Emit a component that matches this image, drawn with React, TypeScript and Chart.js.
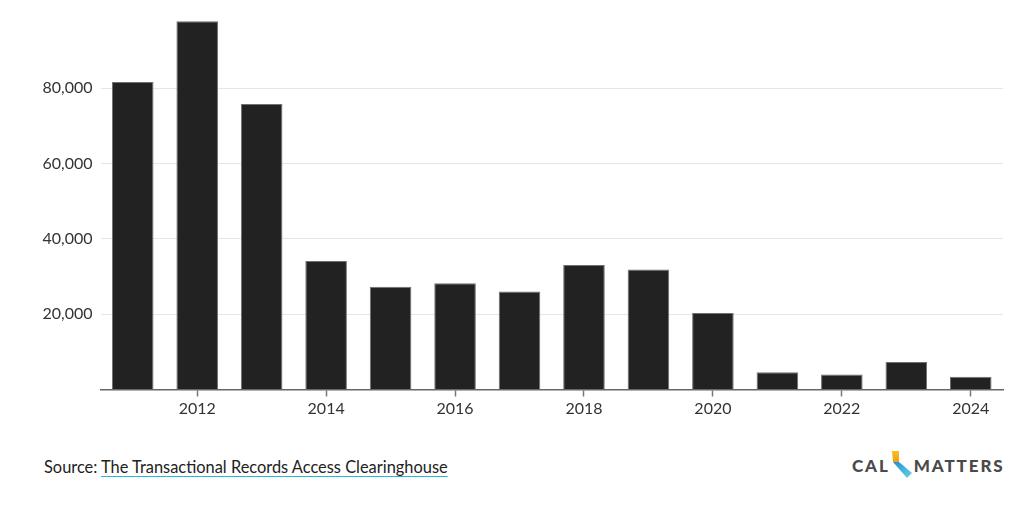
import React, { useEffect, useRef } from 'react';
import { Chart, registerables } from 'chart.js';

Chart.register(...registerables);

const years = ['2011', '2012', '2013', '2014', '2015', '2016', '2017', '2018', '2019', '2020', '2021', '2022', '2023', '2024'];
const values = [81700, 97800, 75800, 34100, 27300, 28200, 26000, 33100, 31900, 20300, 4600, 4000, 7300, 3400];
const yTickValues = [20000, 40000, 60000, 80000];

const FONT = 'Lato, "Noto Sans", sans-serif';

export default function App() {
  const canvasRef = useRef<HTMLCanvasElement | null>(null);

  useEffect(() => {
    if (!canvasRef.current) return;
    const chart = new Chart(canvasRef.current, {
      type: 'bar',
      data: {
        labels: years,
        datasets: [
          {
            data: values,
            backgroundColor: '#222222',
            borderColor: '#707070',
            borderWidth: 1,
            barPercentage: 0.645,
            categoryPercentage: 1,
          },
        ],
      },
      options: {
        animation: false,
        responsive: true,
        maintainAspectRatio: false,
        layout: { padding: { top: 13, right: 21, left: 0, bottom: 0 } },
        plugins: {
          legend: { display: false },
          tooltip: { enabled: false },
        },
        scales: {
          x: {
            offset: true,
            grid: {
              display: true,
              drawOnChartArea: false,
              offset: false,
              tickLength: 7,
              tickWidth: 1.5,
              tickColor: (ctx: any) => (ctx.index % 2 === 1 ? '#777777' : 'rgba(0,0,0,0)'),
            },
            border: { display: true, color: '#666666', width: 1.5 },
            ticks: {
              autoSkip: false,
              maxRotation: 0,
              padding: 3,
              color: '#333333',
              font: { family: FONT, size: 16 },
              callback: (_v: any, i: number) => (i % 2 === 1 ? years[i] : ''),
            },
            afterFit: (s: any) => {
              s.height = 40.5;
              s.paddingLeft = 0;
              s.paddingRight = 0;
            },
          },
          y: {
            min: 0,
            max: 100000,
            grid: {
              drawTicks: false,
              color: (ctx: any) => (ctx.tick && yTickValues.includes(ctx.tick.value) ? '#e6e6e6' : 'rgba(0,0,0,0)'),
              lineWidth: 1,
            },
            border: { display: false },
            ticks: {
              stepSize: 20000,
              padding: 8,
              color: '#333333',
              font: { family: FONT, size: 16 },
              callback: (v: any) => (yTickValues.includes(Number(v)) ? Number(v).toLocaleString('en-US') : ''),
            },
            afterFit: (s: any) => {
              s.width = 100.5;
              s.paddingTop = 0;
              s.paddingBottom = 0;
            },
          },
        },
      },
    });
    return () => chart.destroy();
  }, []);

  return (
    <div style={{ position: 'absolute', left: 0, top: 0, width: 1024, height: 507, background: '#ffffff', overflow: 'hidden' }}>
      <div style={{ position: 'absolute', left: 0, top: 0, width: 1024, height: 430 }}>
        <canvas ref={canvasRef} />
      </div>
      <div
        style={{
          position: 'absolute',
          left: 44,
          top: 456,
          fontFamily: FONT,
          fontSize: 16.4,
          color: '#222222',
          lineHeight: '22px',
          whiteSpace: 'nowrap',
        }}
      >
        Source:{' '}
        <span
          style={{
            textDecoration: 'underline',
            textDecorationColor: '#29b6d8',
            textUnderlineOffset: 3,
            textDecorationThickness: 1,
          }}
        >
          The Transactional Records Access Clearinghouse
        </span>
      </div>
      <div
        style={{
          position: 'absolute',
          left: 852,
          top: 451,
          height: 28,
          display: 'flex',
          alignItems: 'center',
          fontFamily: FONT,
          fontWeight: 900,
          fontSize: 17,
          letterSpacing: 1.9,
          color: '#4a4a4a',
          whiteSpace: 'nowrap',
        }}
      >
        <span>CAL</span>
        <svg width="24" height="28" viewBox="0 0 24 28" style={{ margin: '0 1px 0 -1px' }}>
          <defs>
            <linearGradient id="calTop" x1="0" y1="0" x2="0" y2="1">
              <stop offset="0" stopColor="#f7c21a" />
              <stop offset="1" stopColor="#f39a1e" />
            </linearGradient>
            <linearGradient id="calBot" x1="0" y1="0" x2="1" y2="1">
              <stop offset="0" stopColor="#1c8fd0" />
              <stop offset="1" stopColor="#6fd3e6" />
            </linearGradient>
          </defs>
          <polygon points="3,0 10,0 10,11 4,11" fill="url(#calTop)" />
          <polygon points="4,11 10,11 23,22 18,27" fill="url(#calBot)" />
        </svg>
        <span>MATTERS</span>
      </div>
    </div>
  );
}
